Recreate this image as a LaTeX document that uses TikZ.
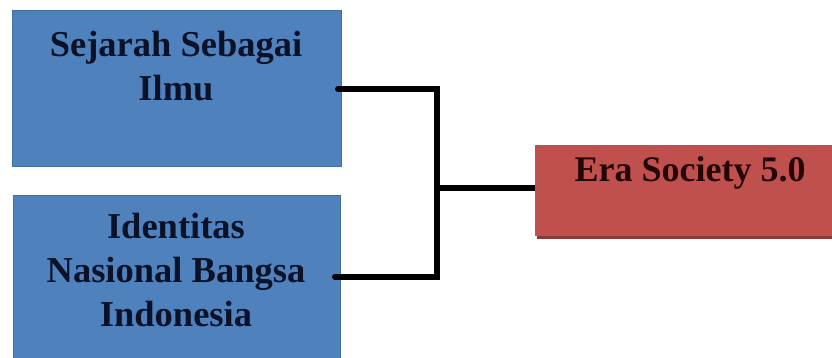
\documentclass[tikz,border=0pt]{standalone}
\usepackage{fontspec}
\setmainfont{Liberation Serif}
\definecolor{boxblue}{HTML}{4F81BD}
\definecolor{boxred}{HTML}{C0504D}
\definecolor{shadred}{HTML}{8C3A38}
\definecolor{navytext}{HTML}{0B1228}
\definecolor{redtext}{HTML}{240606}
\begin{document}
\begin{tikzpicture}[x=1pt,y=-1pt,
  bluebox/.style={fill=boxblue,draw=boxblue!85!black,line width=0.6pt,inner sep=0pt,anchor=north west},
  redbox/.style={fill=boxred,inner sep=0pt,anchor=north west},
  btext/.style={font=\bfseries\fontsize{36.5}{44}\selectfont,text=navytext,align=center,inner sep=0pt},
  rtext/.style={font=\bfseries\fontsize{36}{44}\selectfont,text=redtext,align=center,inner sep=0pt},
  conn/.style={line width=6pt,black,line cap=round,line join=miter}]
\useasboundingbox (0,0) rectangle (832,358);
\node[bluebox,minimum width=329pt,minimum height=156pt] (b1) at (12,10) {};
\node[bluebox,minimum width=327pt,minimum height=170pt] (b2) at (13,195) {};
\fill[shadred] (537,148) rectangle (835,239);
\node[redbox,minimum width=300pt,minimum height=91pt] (r) at (535,145) {};
\node[btext] (t1) at (176,66) {Sejarah Sebagai\\Ilmu};
\node[btext] (t2) at (176,270) {Identitas\\Nasional Bangsa\\Indonesia};
\node[rtext] (t3) at (690,173) {Era Society 5.0};
\coordinate (j) at (437,188);
\coordinate (s1) at (338,89);
\coordinate (s2) at (335,277);
\draw[conn] (s1) -- (j |- s1) -- (j |- s2) -- (s2);
\draw[conn,line cap=butt] (j) -- (r.west |- j);
\end{tikzpicture}
\end{document}
